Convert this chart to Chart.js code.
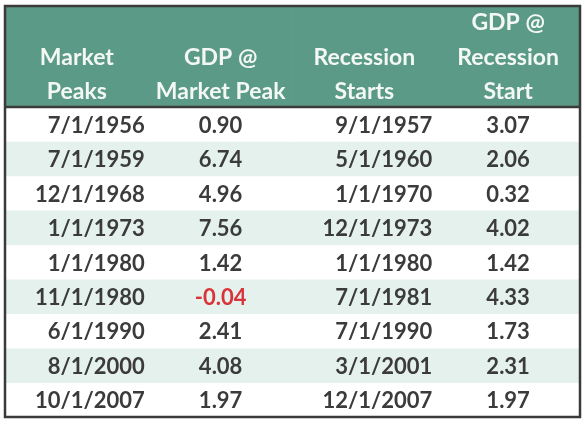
<!DOCTYPE html>
<html lang="en">
<head>
    <meta charset="UTF-8">
    <title>Market Peaks vs Recession Starts</title>
    <script src="https://cdn.jsdelivr.net/npm/chart.js"></script>
    <style>
        html, body {
            margin: 0;
            padding: 0;
            background-color: white;
        }
        .chart-container {
            width: 585px;
            height: 427px;
        }
    </style>
</head>
<body>
    <div class="chart-container">
        <canvas id="tableChart" width="585" height="427"></canvas>
    </div>

    <script>
        // table data
        const headers = [
            ['Market', 'Peaks'],
            ['GDP @', 'Market Peak'],
            ['Recession', 'Starts'],
            ['GDP @', 'Recession', 'Start']
        ];
        const marketPeaks = ['7/1/1956', '7/1/1959', '12/1/1968', '1/1/1973', '1/1/1980',
                             '11/1/1980', '6/1/1990', '8/1/2000', '10/1/2007'];
        const gdpAtPeak = [0.90, 6.74, 4.96, 7.56, 1.42, -0.04, 2.41, 4.08, 1.97];
        const recessionStarts = ['9/1/1957', '5/1/1960', '1/1/1970', '12/1/1973', '1/1/1980',
                                 '7/1/1981', '7/1/1990', '3/1/2001', '12/1/2007'];
        const gdpAtRecession = [3.07, 2.06, 0.32, 4.02, 1.42, 4.33, 1.73, 2.31, 1.97];

        const columns = [marketPeaks, gdpAtPeak, recessionStarts, gdpAtRecession];
        const headerRows = 2.93; // header height, in row units
        const rowCount = marketPeaks.length;

        const headerColor = '#5b9a86';
        const stripeColor = '#e5f1ed';
        const textColor = '#3b3b3b';
        const fontFamily = 'Lato, "Open Sans", sans-serif';

        // one dataset per table band: header + each row, a bar in every column
        const datasets = [{
            label: 'header',
            data: headers.map(() => [0, headerRows]),
            backgroundColor: headerColor
        }];
        for (let i = 0; i < rowCount; i++) {
            datasets.push({
                label: 'row' + i,
                data: headers.map(() => [headerRows + i, headerRows + i + 1]),
                backgroundColor: i % 2 === 0 ? '#ffffff' : stripeColor
            });
        }

        const cellText = {
            id: 'cellText',
            afterDatasetsDraw(chart) {
                const ctx = chart.ctx;
                const x = chart.scales.x;
                const y = chart.scales.y;
                const area = chart.chartArea;
                const colW = (area.right - area.left) / headers.length;

                ctx.save();
                ctx.textBaseline = 'middle';

                // header text, bottom aligned
                ctx.font = '700 23px ' + fontFamily;
                ctx.fillStyle = '#f3f8f5';
                ctx.textAlign = 'center';
                headers.forEach((lines, c) => {
                    const cx = x.getPixelForValue(c);
                    lines.forEach((line, k) => {
                        const fromBottom = lines.length - 1 - k;
                        const cy = y.getPixelForValue(headerRows - 0.5 - fromBottom) + 2;
                        ctx.fillText(line, cx, cy);
                    });
                });

                // body cells
                ctx.font = '700 22px ' + fontFamily;
                columns.forEach((col, c) => {
                    const cx = x.getPixelForValue(c);
                    col.forEach((v, r) => {
                        const cy = y.getPixelForValue(headerRows + r + 0.5) + 1.5;
                        if (typeof v === 'number') {
                            ctx.textAlign = 'center';
                            ctx.fillStyle = v < 0 ? '#d9343a' : textColor;
                            ctx.fillText(v.toFixed(2), cx, cy);
                        } else {
                            ctx.textAlign = 'right';
                            ctx.fillStyle = textColor;
                            ctx.fillText(v, cx + colW / 2 - 4, cy);
                        }
                    });
                });

                // borders
                ctx.strokeStyle = '#3a3a3a';
                ctx.lineWidth = 2.5;
                const hy = y.getPixelForValue(headerRows);
                ctx.beginPath();
                ctx.moveTo(area.left, hy);
                ctx.lineTo(area.right, hy);
                ctx.stroke();
                ctx.strokeRect(area.left, area.top, area.right - area.left, area.bottom - area.top);
                ctx.restore();
            }
        };

        new Chart(document.getElementById('tableChart'), {
            type: 'bar',
            data: {
                labels: headers.map(h => h.join(' ')),
                datasets: datasets
            },
            options: {
                responsive: false,
                animation: false,
                layout: {
                    padding: { left: 5, right: 5, top: 6, bottom: 10 }
                },
                datasets: {
                    bar: {
                        grouped: false,
                        barPercentage: 1,
                        categoryPercentage: 1,
                        borderWidth: 0
                    }
                },
                plugins: {
                    legend: { display: false },
                    tooltip: { enabled: false }
                },
                scales: {
                    x: {
                        type: 'category',
                        display: false
                    },
                    y: {
                        type: 'linear',
                        reverse: true,
                        min: 0,
                        max: headerRows + rowCount,
                        display: false
                    }
                }
            },
            plugins: [cellText]
        });
    </script>
</body>
</html>
